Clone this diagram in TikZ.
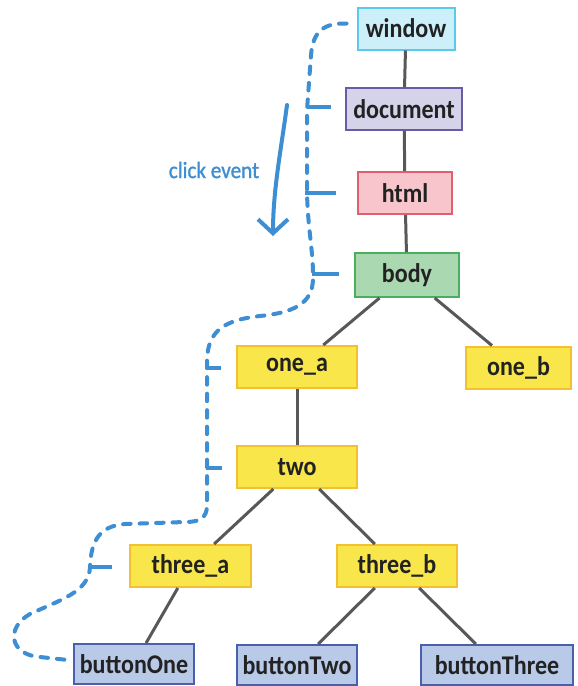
\documentclass[tikz,border=0pt]{standalone}
\usepackage{fontspec}
\setmainfont{Carlito}
\newfontfamily\labfont[FakeStretch=0.89]{Carlito}
\newfontfamily\clickfont[FakeStretch=0.9,FakeBold=1.2]{Carlito}
\usetikzlibrary{arrows.meta,calc}
\definecolor{winfill}{HTML}{CDEFFA}
\definecolor{windraw}{HTML}{5CC8EC}
\definecolor{docfill}{HTML}{D5D3EA}
\definecolor{docdraw}{HTML}{6A5BA5}
\definecolor{htmlfill}{HTML}{F7C5CB}
\definecolor{htmldraw}{HTML}{E0606E}
\definecolor{bodyfill}{HTML}{A9D8B1}
\definecolor{bodydraw}{HTML}{4BAE5E}
\definecolor{yelfill}{HTML}{F8E64B}
\definecolor{yeldraw}{HTML}{F3C032}
\definecolor{btnfill}{HTML}{B9C9E8}
\definecolor{btndraw}{HTML}{4960AD}
\definecolor{edgegray}{HTML}{585858}
\definecolor{evblue}{HTML}{3E8ED3}
\definecolor{txt}{HTML}{222222}
\begin{document}
\begin{tikzpicture}[x=1pt,y=-1pt,
  box/.style={draw, line width=2pt, minimum height=42pt, inner sep=0pt,
    font=\labfont\fontsize{27}{31}\selectfont\bfseries, text=txt},
  winbox/.style={box, fill=winfill, draw=windraw},
  docbox/.style={box, fill=docfill, draw=docdraw},
  htmlbox/.style={box, fill=htmlfill, draw=htmldraw},
  bodybox/.style={box, fill=bodyfill, draw=bodydraw},
  yelbox/.style={box, fill=yelfill, draw=yeldraw},
  btnbox/.style={box, fill=btnfill, draw=btndraw, minimum height=40pt},
  edge/.style={draw=edgegray, line width=3pt},
  bubble/.style={draw=evblue, line width=4pt, dash pattern=on 7.5pt off 9pt, line cap=round},
  tick/.style={draw=evblue, line width=3.5pt}
]
\useasboundingbox (0,0) rectangle (578,686);

\node[winbox, minimum width=97pt] (window) at (406,28.5) {window};
\node[docbox, minimum width=116pt] (document) at (404,109) {document};
\node[htmlbox, minimum width=94pt] (html) at (405,193) {html};
\node[bodybox, minimum width=104pt, minimum height=44pt] (body) at (407,275) {body};
\node[yelbox, minimum width=120pt] (onea) at (297,367) {one\_a};
\node[yelbox, minimum width=105pt] (oneb) at (518.5,367.5) {one\_b};
\node[yelbox, minimum width=120pt] (two) at (297,467) {two};
\node[yelbox, minimum width=121pt] (threea) at (190.5,566) {three\_a};
\node[yelbox, minimum width=120pt] (threeb) at (397,566) {three\_b};
\node[btnbox, minimum width=120pt] (btnone) at (134,664) {buttonOne};
\node[btnbox, minimum width=120pt] (btntwo) at (297,665) {buttonTwo};
\node[btnbox, minimum width=152pt] (btnthree) at (497,665) {buttonThree};

\path[edge] (window) -- (document);
\path[edge] (document) -- (html);
\path[edge] (html) -- (body);
\path[edge] (body) -- (onea);
\path[edge] (body) -- (oneb);
\path[edge] (onea) -- (two);
\path[edge] (two) -- (threea);
\path[edge] (two) -- (threeb);
\path[edge] (threea) -- (btnone);
\path[edge] (threeb) -- (btntwo);
\path[edge] (threeb) -- (btnthree);

% event path
\coordinate (pstart) at ($(window.west)+(-10,-5)$);
\coordinate (pend) at ($(btnone.west)+(-5,-4)$);
\draw[bubble] (pstart) .. controls (325,23) and (313,30) .. (311,55)
  -- (307,110) -- (307,193)
  .. controls (308,230) and (313,250) .. (313,275)
  .. controls (314,300) and (300,312) .. (260,316)
  .. controls (225,320) and (208,330) .. (207,360)
  -- (207,505)
  .. controls (207,518) and (200,522) .. (185,522)
  -- (125,524)
  .. controls (100,526) and (91,540) .. (90,567)
  .. controls (89,592) and (60,600) .. (30,614)
  .. controls (5,628) and (10,655) .. (40,657)
  -- (pend);

\path[tick] ($(document.west)+(-38,-2)$) -- ($(document.west)+(-14,-2)$);
\path[tick] ($(html.west)+(-52,0)$) -- ($(html.west)+(-21,0)$);
\path[tick] ($(body.west)+(-42,-1)$) -- ($(body.west)+(-15,-1)$);
\path[tick] ($(onea.west)+(-30,1)$) -- ($(onea.west)+(-15,1)$);
\path[tick] ($(two.west)+(-30,1)$) -- ($(two.west)+(-14,1)$);
\path[tick] ($(threea.west)+(-40,1)$) -- ($(threea.west)+(-17,1)$);

% click event arrow
\node[font=\clickfont\fontsize{23.5}{28}\selectfont, text=evblue, anchor=center] (clk) at (214,170) {click event};
\coordinate (astart) at (287,105);
\coordinate (aend) at (273,236);
\draw[evblue, line width=4pt, line cap=round, -{Straight Barb[length=14pt,width=30pt]}]
  (astart) .. controls (281,150) and (273,190) .. (aend);
\end{tikzpicture}
\end{document}
